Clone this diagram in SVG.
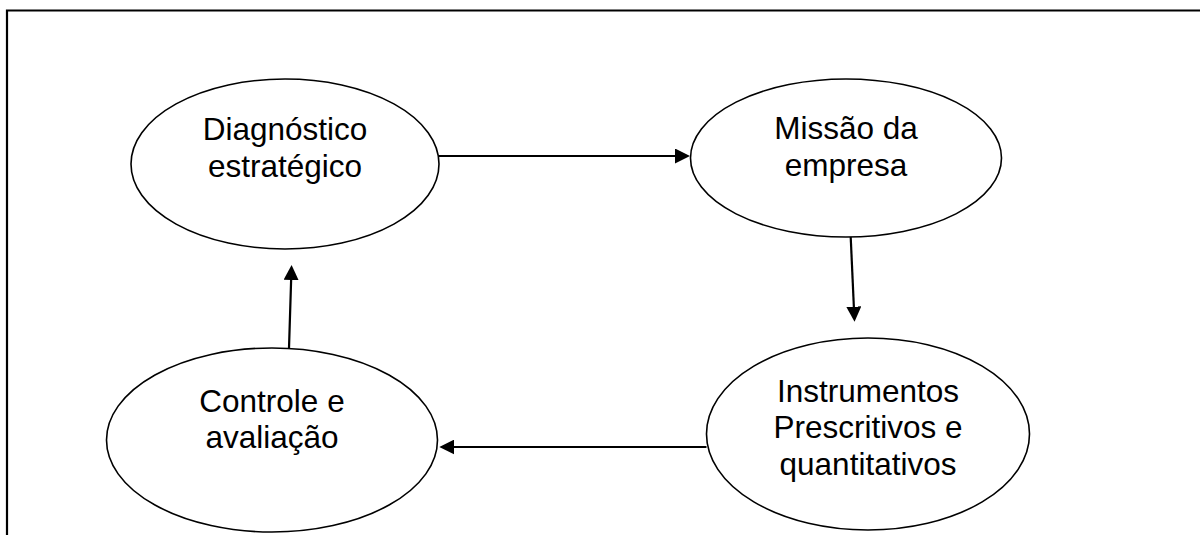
<svg xmlns="http://www.w3.org/2000/svg" width="1200" height="535" viewBox="0 0 1200 535">
  <style>
    .node ellipse { fill: #ffffff; stroke: #000000; stroke-width: 1.6; }
    .node text { font-family: "Liberation Sans", Arial, sans-serif; font-size: 31.5px; fill: #000000; text-anchor: middle; }
    .conn line { stroke: #000000; stroke-width: 2.2; }
    .frame { stroke: #000000; stroke-width: 2.2; fill: none; }
  </style>
  <defs>
    <marker id="arrow" viewBox="0 0 15 15" refX="12" refY="7.5" markerWidth="15" markerHeight="15" markerUnits="userSpaceOnUse" orient="auto">
      <path d="M0,0 L15,7.5 L0,15 z" fill="#000000"/>
    </marker>
  </defs>
  <rect width="1200" height="535" fill="#ffffff"/>
  <g id="frame">
    <polyline class="frame" points="7,535 7,10.5 1200,10.5"/>
  </g>
  <g id="connectors" class="conn">
    <line x1="439" y1="156" x2="687" y2="156" marker-end="url(#arrow)"/>
    <line x1="850.7" y1="237" x2="854.4" y2="318.7" marker-end="url(#arrow)"/>
    <line x1="706.5" y1="447" x2="442.3" y2="447" marker-end="url(#arrow)"/>
    <line x1="289" y1="348" x2="291.5" y2="268" marker-end="url(#arrow)"/>
  </g>
  <g id="node-diagnostico" class="node">
    <ellipse cx="285" cy="164" rx="154" ry="85"/>
    <text x="285" y="140">Diagnóstico</text>
    <text x="285" y="176.5">estratégico</text>
  </g>
  <g id="node-missao" class="node">
    <ellipse cx="846" cy="158" rx="155.5" ry="79"/>
    <text x="846" y="139">Missão da</text>
    <text x="846" y="175.5">empresa</text>
  </g>
  <g id="node-instrumentos" class="node">
    <ellipse cx="868" cy="434" rx="161.5" ry="96"/>
    <text x="868" y="401.5">Instrumentos</text>
    <text x="868" y="438">Prescritivos e</text>
    <text x="868" y="474.5">quantitativos</text>
  </g>
  <g id="node-controle" class="node">
    <ellipse cx="272" cy="440" rx="165.5" ry="92"/>
    <text x="272" y="412">Controle e</text>
    <text x="272" y="448">avaliação</text>
  </g>
</svg>
